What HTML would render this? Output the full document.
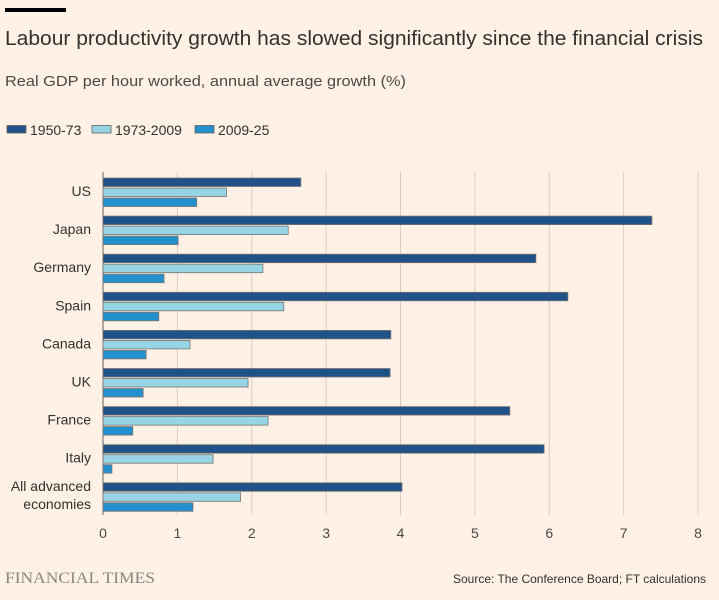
<!DOCTYPE html>
<html><head><meta charset="utf-8"><style>
body{margin:0;background:#fff1e5;font-family:"Liberation Sans",sans-serif;}
svg{display:block}
</style></head><body>
<svg id="c" width="719" height="600" xmlns="http://www.w3.org/2000/svg">
<rect x="0" y="0" width="719" height="600" fill="#fff1e5"/>
<rect x="5" y="8" width="61" height="4" fill="#000"/>
<text x="5" y="45" font-size="20" fill="#33302e" textLength="698" lengthAdjust="spacingAndGlyphs">Labour productivity growth has slowed significantly since the financial crisis</text>
<text x="5" y="86" font-size="15" fill="#4d4845" textLength="401" lengthAdjust="spacingAndGlyphs">Real GDP per hour worked, annual average growth (%)</text>
<g id="legend"></g>
<g id="grid"></g><g id="bars"></g><g id="labels"></g>
<text x="5" y="583" font-size="16" fill="#8a8580" font-family="Liberation Serif,serif" textLength="150" lengthAdjust="spacingAndGlyphs">FINANCIAL TIMES</text>
<text x="706" y="583" font-size="12" fill="#33302e" text-anchor="end">Source: The Conference Board; FT calculations</text>
</svg>
<script>
const categories=["US","Japan","Germany","Spain","Canada","UK","France","Italy","All advanced economies"];
const seriesNames=["1950-73","1973-2009","2009-25"];
const s1950=[2.66,7.38,5.82,6.25,3.87,3.86,5.47,5.93,4.02];
const s1973=[1.66,2.49,2.15,2.43,1.17,1.95,2.22,1.48,1.85];
const s2009=[1.26,1.01,0.82,0.75,0.58,0.54,0.40,0.12,1.21];
const ticks=[0,1,2,3,4,5,6,7,8];
const colors=["#1e5288","#96d4e6","#2391cd"];
const NS="http://www.w3.org/2000/svg";
const x0=103,x1=698,xMax=8;
const xs=v=>x0+(x1-x0)*v/xMax;
const ys=i=>191+i*38.1;
function mk(t,a,p){const e=document.createElementNS(NS,t);for(const k in a)e.setAttribute(k,a[k]);p.appendChild(e);return e;}
const grid=document.getElementById('grid'),bars=document.getElementById('bars'),labels=document.getElementById('labels'),legend=document.getElementById('legend');
ticks.forEach(t=>{
 const l=mk('line',{x1:xs(t),x2:xs(t),y1:172,y2:515,stroke:t===0?'#66605c':'#d9cdc3','stroke-width':1},grid);
 
 
 const tx=mk('text',{x:xs(t),y:538,'font-size':14,fill:'#4d4845','text-anchor':'middle'},labels);
 tx.textContent=t;
 
 
});
const series=[s1950,s1973,s2009];
categories.forEach((c,i)=>{
 series.forEach((s,j)=>{
  const y=ys(i)-13+j*10;
  const r=mk('rect',{x:xs(0),y:y,width:xs(s[i])-xs(0),height:8.5,fill:colors[j],stroke:'#7a7470','stroke-width':0.8},bars);
  
  
 });
 if(c==="All advanced economies"){
  const t1=mk('text',{x:91,y:ys(i)-5,'font-size':14,fill:'#33302e','text-anchor':'end'},labels);t1.textContent="All advanced";
  
  
  const t2=mk('text',{x:91,y:ys(i)+13,'font-size':14,fill:'#33302e','text-anchor':'end'},labels);t2.textContent="economies";
  
  
 } else {
  const t=mk('text',{x:91,y:ys(i)+5,'font-size':14,fill:'#33302e','text-anchor':'end'},labels);t.textContent=c;
  
  
 }
});
const lx=[7,92,195];
seriesNames.forEach((n,j)=>{
 const r=mk('rect',{x:lx[j],y:125.5,width:19,height:7.5,fill:colors[j],stroke:'#66605c','stroke-width':0.8},legend);
 
 
 const t=mk('text',{x:lx[j]+23,y:135,'font-size':14,fill:'#33302e'},legend);t.textContent=n;
 
 
});
</script>
</body></html>
